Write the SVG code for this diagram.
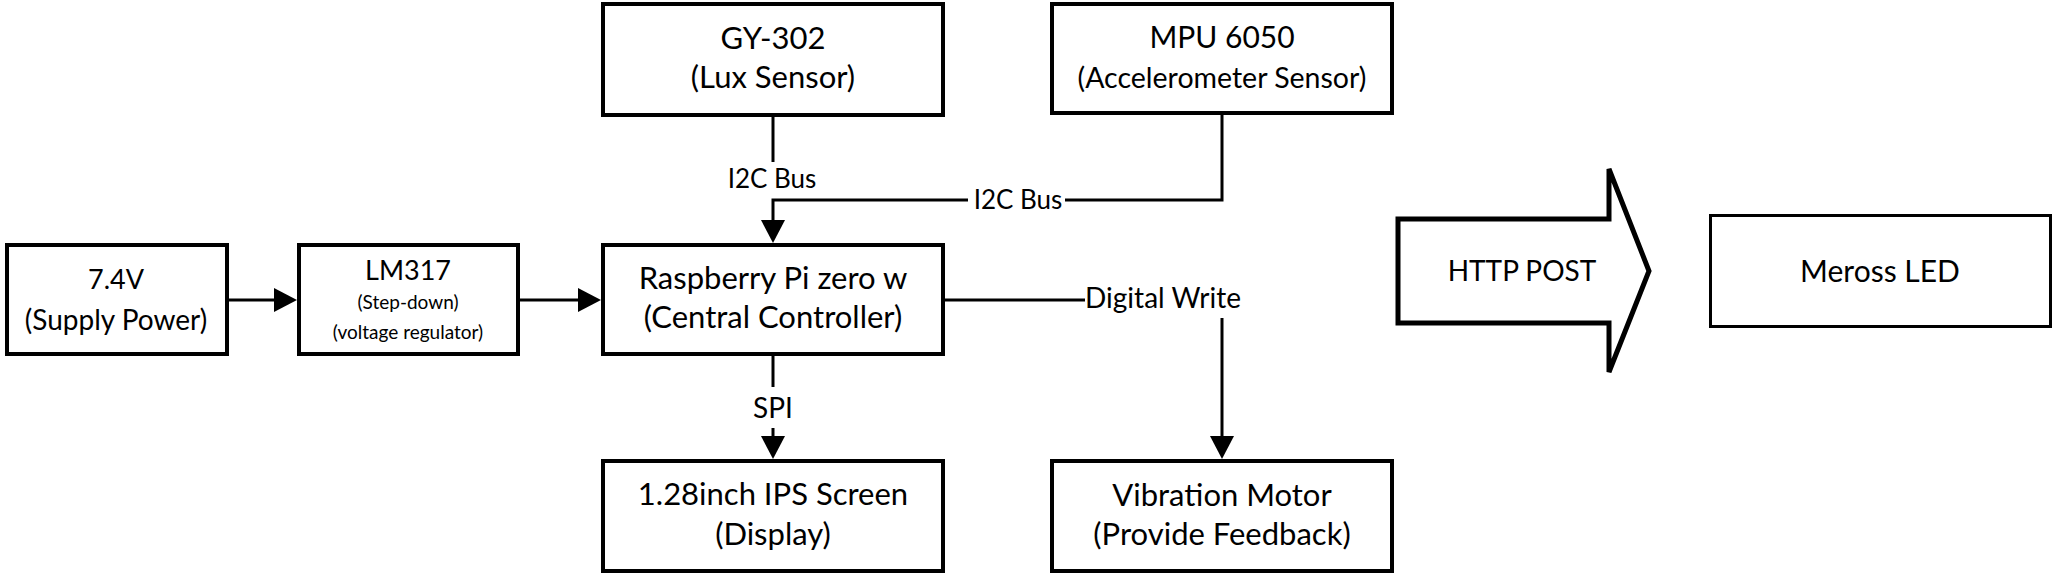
<svg xmlns="http://www.w3.org/2000/svg" width="2058" height="575" viewBox="0 0 2058 575">
<style>
  .box { fill: #ffffff; stroke: #000000; stroke-width: 4; }
  .thin { stroke-width: 3; }
  .conn { fill: none; stroke: #000000; stroke-width: 3; }
  text { font-family: Lato, "Open Sans", sans-serif; fill: #000000; text-anchor: middle; }
  .t31 { font-size: 31px; }
  .t28 { font-size: 28px; }
  .t19 { font-size: 19px; }
  .lbl { font-size: 27px; }
</style>
<defs>
  <marker id="ah" markerWidth="24" markerHeight="24" refX="0" refY="12" orient="auto" markerUnits="userSpaceOnUse">
    <path d="M0,0 L23,12 L0,24 z" fill="#000000"/>
  </marker>
</defs>
<rect width="2058" height="575" fill="#ffffff"/>

<g id="connectors">
  <path class="conn" d="M227,300 L274,300" marker-end="url(#ah)"/>
  <path class="conn" d="M518,300 L578,300" marker-end="url(#ah)"/>
  <path class="conn" d="M773,115 L773,162"/>
  <path class="conn" d="M1222,113 L1222,200 L1065,200"/>
  <path class="conn" d="M968,200 L773,200 L773,220" marker-end="url(#ah)"/>
  <path class="conn" d="M943,300 L1085,300"/>
  <path class="conn" d="M1222,318 L1222,436" marker-end="url(#ah)"/>
  <path class="conn" d="M773,354 L773,387"/>
  <path class="conn" d="M773,428 L773,436" marker-end="url(#ah)"/>
  <text x="772" y="188" style="font-size:26px">I2C Bus</text>
  <text x="1018" y="209" style="font-size:26px">I2C Bus</text>
  <text class="lbl" x="1163" y="308" style="font-size:28px">Digital Write</text>
  <text class="lbl" x="773" y="418" style="font-size:28px">SPI</text>
</g>

<g id="supply">
  <rect class="box" x="7" y="245" width="220" height="109"/>
  <text class="t28" x="116" y="289" style="font-size:27px">7.4V</text>
  <text class="t28" x="116" y="330">(Supply Power)</text>
</g>

<g id="lm317">
  <rect class="box" x="299" y="245" width="219" height="109"/>
  <text x="408" y="280" style="font-size:27px">LM317</text>
  <text class="t19" x="408" y="309">(Step-down)</text>
  <text class="t19" x="408" y="339">(voltage regulator)</text>
</g>

<g id="raspberry">
  <rect class="box" x="603" y="245" width="340" height="109"/>
  <text class="t31" x="773" y="289">Raspberry Pi zero w</text>
  <text class="t31" x="773" y="328">(Central Controller)</text>
</g>

<g id="gy302">
  <rect class="box" x="603" y="4" width="340" height="111"/>
  <text class="t31" x="773" y="49">GY-302</text>
  <text class="t31" x="773" y="88">(Lux Sensor)</text>
</g>

<g id="mpu6050">
  <rect class="box" x="1052" y="4" width="340" height="109"/>
  <text class="t31" x="1222" y="48" style="font-size:30px">MPU 6050</text>
  <text x="1222" y="88" style="font-size:28.5px">(Accelerometer Sensor)</text>
</g>

<g id="ips">
  <rect class="box" x="603" y="461" width="340" height="110"/>
  <text class="t31" x="773" y="505">1.28inch IPS Screen</text>
  <text class="t31" x="773" y="545">(Display)</text>
</g>

<g id="vibration">
  <rect class="box" x="1052" y="461" width="340" height="110"/>
  <text class="t31" x="1222" y="506">Vibration Motor</text>
  <text class="t31" x="1222" y="545">(Provide Feedback)</text>
</g>

<g id="http">
  <polygon points="1398,219 1609,219 1609,169 1649,271 1609,372 1609,323 1398,323" fill="#ffffff" stroke="#000000" stroke-width="5" stroke-linejoin="miter"/>
  <text x="1522" y="281" style="font-size:28px">HTTP POST</text>
</g>

<g id="meross">
  <rect class="box thin" x="1710.5" y="215.5" width="340" height="111"/>
  <text x="1880" y="282" style="font-size:30px">Meross LED</text>
</g>
</svg>
